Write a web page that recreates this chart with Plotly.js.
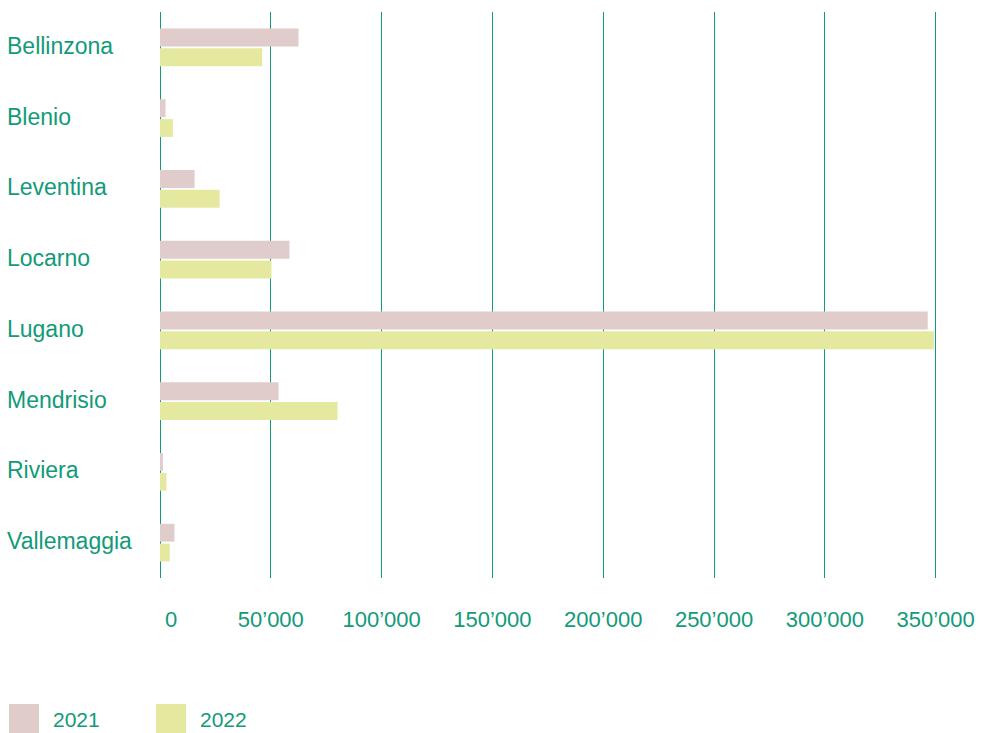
<!DOCTYPE html>
<html>
<head>
<meta charset="utf-8">
<script src="https://cdn.plot.ly/plotly-3.0.1.min.js"></script>
<style>html,body{margin:0;padding:0;background:#fff;}#chart{width:982px;height:733px;}</style>
</head>
<body>
<div id="chart"></div>
<script>
const categories = ["Bellinzona","Blenio","Leventina","Locarno","Lugano","Mendrisio","Riviera","Vallemaggia"];
const values2021 = [62500, 2500, 15600, 58400, 346400, 53500, 1300, 6500];
const values2022 = [46100, 5800, 26900, 50300, 349200, 80100, 2900, 4400];
const seriesNames = ["2021","2022"];
const tickVals = [0, 50000, 100000, 150000, 200000, 250000, 300000, 350000];
const tickLabels = ["\u20030","50\u2019000","100\u2019000","150\u2019000","200\u2019000","250\u2019000","300\u2019000","350\u2019000"];

const GREEN = "#129a79";
const COLORS = ["#e0cccb", "#e5e89f"];
const FONT = "Liberation Sans, Arial, sans-serif";

const traces = [values2021, values2022].map((v, i) => ({
  type: "bar",
  orientation: "h",
  name: seriesNames[i],
  y: categories,
  x: v,
  marker: {color: COLORS[i]},
  hoverinfo: "x+y"
}));

const W = 982, H = 733;
const m = {l: 160, r: 2, t: 12, b: 155};
const pw = W - m.l - m.r, ph = H - m.t - m.b;

const annotations = categories.map(c => ({
  xref: "paper", yref: "y", x: -155 / pw, y: c, xanchor: "left", yanchor: "middle", yshift: 1.5,
  text: c, showarrow: false, font: {family: FONT, size: 23, color: GREEN}
}));

const shapes = [];
seriesNames.forEach((n, i) => {
  shapes.push({type: "rect", xref: "paper", yref: "paper",
    x0: (9 + i * 147 - m.l) / pw, x1: (39 + i * 147 - m.l) / pw,
    y0: -(704 - (m.t + ph)) / ph, y1: -(733 - (m.t + ph)) / ph,
    fillcolor: COLORS[i], line: {width: 0}});
  annotations.push({xref: "paper", yref: "paper", x: (51 + i * 147 - m.l) / pw, y: -(719 - (m.t + ph)) / ph,
    xanchor: "left", yanchor: "middle", text: n, showarrow: false,
    font: {family: FONT, size: 21, color: GREEN}});
});

const layout = {
  width: W, height: H,
  margin: m,
  paper_bgcolor: "#fff", plot_bgcolor: "#fff",
  barmode: "group",
  bargap: 0.44,
  bargroupgap: 0.1,
  showlegend: false,
  font: {family: FONT, size: 22, color: GREEN},
  xaxis: {
    range: [0, 370000],
    tickvals: tickVals, ticktext: tickLabels,
    showgrid: true, gridcolor: GREEN, gridwidth: 1,
    zeroline: true, zerolinecolor: GREEN, zerolinewidth: 1,
    showline: false,
    ticks: "outside", ticklen: 22, tickcolor: "rgba(0,0,0,0)",
    tickfont: {family: FONT, size: 22, color: GREEN},
    fixedrange: true
  },
  yaxis: {
    categoryorder: "array", categoryarray: categories,
    autorange: "reversed",
    showticklabels: false, showgrid: false, zeroline: false, showline: false,
    ticks: "", fixedrange: true
  },
  annotations: annotations,
  shapes: shapes
};

Plotly.newPlot("chart", traces, layout, {displayModeBar: false, staticPlot: true});
</script>
</body>
</html>
